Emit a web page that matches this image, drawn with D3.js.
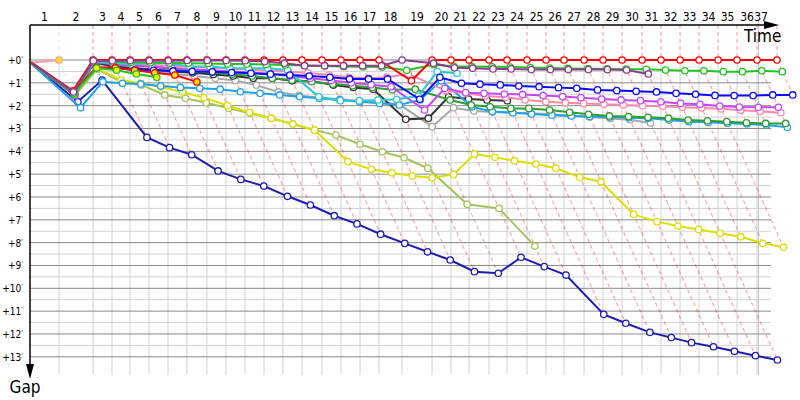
<!DOCTYPE html>
<html>
<head>
<meta charset="utf-8">
<script src="https://cdn.jsdelivr.net/npm/d3@7"></script>
<style>
body { margin: 0; background: #fff; }
text { font-family: Tahoma, "DejaVu Sans Condensed", "DejaVu Sans", sans-serif; fill: #000; }
</style>
</head>
<body>
<div id="chart"></div>
<script>
// leader's race time (minutes) at the end of each lap, lap 0 = start
var lapTimes = [0, 2.82, 6.12, 7.96, 9.71, 11.55, 13.40, 15.24, 17.18, 19.03, 20.87,
    22.72, 24.56, 26.41, 28.35, 30.19, 32.04, 33.88, 36.12, 39.03, 40.87,
    42.62, 44.56, 46.31, 48.25, 50.10, 51.84, 53.79, 55.63, 57.48, 59.42,
    61.26, 63.11, 64.95, 66.80, 68.64, 70.58, 72.52];
var lapLabels = d3.range(1, 38);
var gapTicks = d3.range(0, 14);
var raceEnd = 70.72;

// gap to leader (minutes) per lap, index = lap
var gapNavy = [0.15, 1.83, 0.88, 3.39, 3.84, 4.15, 4.86, 5.23, 5.52, 5.97, 6.35, 6.82, 7.18, 7.63, 8.03, 8.4,
    8.76, 9.27, 9.34, 8.64, 9.05, 9.42, 11.14, 11.53, 11.93, 12.16, 12.38, 12.56, 12.76, 12.95, 13.14];
var gapOlive = [0.15, 1.55, 0.4, 0.99, 1.09, 1.53, 1.68, 1.87, 2.11, 2.33, 2.55, 2.8, 3.07, 3.29, 3.69, 4.02,
    4.28, 4.74, 6.32, 6.5, 8.15];
var gapYellow = [0.12, 1.4, 0.35, 0.88, 1.02, 1.18, 1.4, 1.65, 2.0, 2.3, 2.55, 2.8, 3.07, 4.45, 4.79, 4.94,
    5.08, 5.16, 5.01, 4.12, 4.26, 4.41, 4.56, 4.74, 5.14, 5.33, 6.76, 7.08, 7.27, 7.42, 7.59, 7.74, 8.03, 8.2];
var gapGrey = [0.15, 1.5, 0.15, 0.3, 0.4, 0.5, 0.6, 0.7, 0.8, 0.9, 1.1, 1.4, 1.55, 1.65, 1.72, 1.8,
    1.86, 1.93, 2.92, 2.09, 2.23, 2.28, 2.31, 2.33, 2.38, 2.44, 2.5, 2.56, 2.62, 2.76];
var gapBlack = [0.15, 1.5, 0.1, 0.3, 0.35, 0.42, 0.5, 0.56, 0.63, 0.7, 0.8, 0.8, 0.91, 0.92, 1.1, 1.2,
    1.28, 2.6, 2.55, 1.61, 1.71, 1.75, 1.78];
var gapSky = [0.2, 2.09, 0.95, 1.02, 1.05, 1.14, 1.2, 1.24, 1.28, 1.39, 1.46, 1.53, 1.61, 1.68, 1.75, 1.83,
    1.9, 1.97, 1.75, 0.91, 2.05, 2.26, 2.31, 2.37, 2.42, 2.45, 2.48, 2.5, 2.53, 2.55, 2.63, 2.7, 2.73,
    2.77, 2.8, 2.85, 2.95];
var gapDarkGreen = [0.15, 1.5, 0.1, 0.15, 0.2, 0.3, 0.4, 0.5, 0.55, 0.62, 0.7, 0.8, 0.88, 0.95, 1.05, 1.13,
    1.2, 1.3, 1.28, 1.75, 1.97, 2.05, 2.12, 2.12, 2.19, 2.29, 2.38, 2.45, 2.48, 2.51, 2.55, 2.63, 2.66,
    2.7, 2.75, 2.78, 2.78];
var gapPink = [0.13, 1.45, 0.06, 0.15, 0.2, 0.22, 0.25, 0.3, 0.33, 0.38, 0.42, 0.47, 0.52, 0.56, 0.66, 0.76,
    0.8, 0.76, 0.61, 1.34, 1.46, 1.58, 1.63, 1.75, 1.83, 1.87, 1.9, 1.94, 1.97, 2.0, 2.03, 2.07, 2.1,
    2.14, 2.2, 2.25, 2.31];
var gapViolet = [0.15, 1.55, 0.08, 0.2, 0.25, 0.3, 0.35, 0.4, 0.45, 0.5, 0.55, 0.6, 0.7, 0.8, 0.9, 1.0,
    1.08, 1.17, 2.19, 1.24, 1.43, 1.46, 1.49, 1.51, 1.56, 1.6, 1.65, 1.71, 1.75, 1.78, 1.83, 1.9, 1.94,
    2.02, 2.06, 2.07, 2.07];
var gapCyan = [0.15, 1.45, 0.05, 0.15, 0.19, 0.12, 0.14, 0.29, 0.29, 0.36, 0.36, 0.36, 0.44, 1.61, 1.78, 1.78,
    1.75, 1.72, 1.58, 0.51, 0.58];
var gapBlue = [0.12, 1.4, 0.34, 0.34, 0.44, 0.45, 0.48, 0.5, 0.52, 0.55, 0.58, 0.62, 0.66, 0.7, 0.76, 0.83,
    0.83, 0.83, 1.72, 0.76, 1.02, 1.06, 1.09, 1.14, 1.17, 1.21, 1.24, 1.31, 1.34, 1.37, 1.4, 1.46, 1.5,
    1.55, 1.56, 1.56, 1.53, 1.53];
var gapGreen = [0.14, 1.5, 0.02, 0.08, 0.1, 0.12, 0.13, 0.14, 0.15, 0.17, 0.18, 0.2, 0.22, 0.24, 0.26, 0.28,
    0.3, 0.31, 0.45, 0.2, 0.28, 0.29, 0.3, 0.31, 0.33, 0.35, 0.37, 0.38, 0.39, 0.4, 0.41, 0.44, 0.47,
    0.47, 0.51, 0.51, 0.47, 0.51];
var gapRedY = [0.1, 1.4, 0.33, 0.34, 0.45, 0.56, 0.66, 0.96];
var gapGreenY = [0.12, 1.45, 0.35, 0.45, 0.61, 0.76];
var gapPinkLead = [0.12, 0];
var gapRed = [0.1, 1.35, 0, 0, 0, 0, 0, 0, 0, 0, 0, 0, 0, 0, 0, 0, 0, 0, 0.91,
    0, 0, 0, 0, 0, 0, 0, 0, 0, 0, 0, 0, 0, 0, 0, 0, 0, 0, 0];
var gapPurple = [0.12, 1.4, 0.03, 0.03, 0.03, 0.03, 0.03, 0.02, 0.02, 0.02, 0.03, 0.07, 0.14, 0.25, 0.25, 0.25,
    0.25, 0.25, 0, 0.14, 0.34, 0.36, 0.39, 0.39, 0.42, 0.42, 0.42, 0.42, 0.42, 0.44, 0.61];

// drawing order, bottom first
var seriesGaps = [gapNavy, gapOlive, gapYellow, gapGrey, gapBlack, gapSky, gapDarkGreen, gapPink,
    gapViolet, gapCyan, gapBlue, gapGreen, gapRedY, gapGreenY, gapPinkLead, gapRed, gapPurple];
var seriesColors = ["#1c1cb4", "#a6c45e", "#dede00", "#a8a8a8", "#333333", "#20a0f0", "#2e9e2e", "#ff88a8",
    "#c846ff", "#30c8d0", "#0a0aff", "#22c422", "#ff0000", "#22c422", "#ff9aa8", "#ff0000", "#8e3c8e"];
// laps whose marker is filled yellow instead of white
var seriesYellowLaps = [[], [], [], [], [], [], [], [], [1], [], [2, 3, 4], [], [2, 3, 4, 5, 6, 7],
    [2, 3, 4, 5], [1], [], []];

var width = 800, height = 400;
var gridRight = 771, gridBottom = 375;

var svg = d3.select("#chart")
    .append("svg")
    .attr("width", width)
    .attr("height", height);

var x = d3.scaleLinear().domain([0, 72.52]).range([30, 777]);
var y = d3.scaleLinear().domain([0, 13]).range([60, 356.8]);

var series = seriesGaps.map(function (g, i) {
    return {
        color: seriesColors[i],
        yellow: seriesYellowLaps[i],
        points: g.map(function (v, lap) { return { lap: lap, gap: v }; })
    };
});

// grid
var grid = svg.append("g");
grid.selectAll(".minor")
    .data(d3.range(0.5, 13, 1))
    .enter().append("line")
    .attr("x1", x(0)).attr("x2", gridRight)
    .attr("y1", d => y(d)).attr("y2", d => y(d))
    .attr("stroke", "#d2d2d2");
grid.selectAll(".vert")
    .data(lapTimes.slice(1, 37))
    .enter().append("line")
    .attr("x1", d => x(d)).attr("x2", d => x(d))
    .attr("y1", y(0)).attr("y2", gridBottom)
    .attr("stroke", "#d2d2d2");
grid.append("line")
    .attr("x1", x(raceEnd)).attr("x2", x(raceEnd))
    .attr("y1", 20).attr("y2", gridBottom)
    .attr("stroke", "#c4c4c4");
grid.selectAll(".major")
    .data(gapTicks)
    .enter().append("line")
    .attr("x1", x(0)).attr("x2", gridRight)
    .attr("y1", d => y(d)).attr("y2", d => y(d))
    .attr("stroke", "#8a8a8a");

// lap lines: vertical above the leader, then slanted down to the last car on that lap
var lapLines = [];
for (var n = 1; n < lapTimes.length; n++) {
    var maxGap = 0, leader = null, best = Infinity;
    series.forEach(function (s) {
        var p = s.points[n];
        if (!p) return;
        if (p.gap > maxGap) maxGap = p.gap;
        if (p.gap < best) { best = p.gap; leader = s.color; }
    });
    lapLines.push({ lap: n, maxGap: maxGap, color: leader });
}
svg.append("g").selectAll("path")
    .data(lapLines)
    .enter().append("path")
    .attr("d", d => "M" + x(lapTimes[d.lap]) + ",25V" + y(0) +
        "L" + x(lapTimes[d.lap] + d.maxGap) + "," + y(d.maxGap))
    .attr("fill", "none")
    .attr("stroke", d => d.color)
    .attr("stroke-opacity", 0.35)
    .attr("stroke-width", 1.2)
    .attr("stroke-dasharray", "4,3");

// series
var line = d3.line()
    .x(d => x(lapTimes[d.lap] + d.gap))
    .y(d => y(d.gap));

series.forEach(function (s) {
    var g = svg.append("g");
    g.append("path")
        .attr("d", line(s.points))
        .attr("fill", "none")
        .attr("stroke", s.color)
        .attr("stroke-width", 2);
    g.selectAll("circle")
        .data(s.points.slice(1))
        .enter().append("circle")
        .attr("cx", d => x(lapTimes[d.lap] + d.gap))
        .attr("cy", d => y(d.gap))
        .attr("r", 3.2)
        .attr("fill", d => s.yellow.indexOf(d.lap) >= 0 ? "#ffee00" : "#fff")
        .attr("stroke", s.color)
        .attr("stroke-width", 1.3);
});

// axes
svg.append("line")
    .attr("x1", x(0)).attr("x2", 768).attr("y1", 25).attr("y2", 25)
    .attr("stroke", "#000").attr("stroke-width", 1.5);
svg.append("path").attr("d", "M764,21L779,25L764,29Z").attr("fill", "#000");
svg.append("line")
    .attr("x1", x(0)).attr("x2", x(0)).attr("y1", 25).attr("y2", 368)
    .attr("stroke", "#000").attr("stroke-width", 1.5);
svg.append("path").attr("d", "M26,364L30,379L34,364Z").attr("fill", "#000");

svg.selectAll(".laplabel")
    .data(lapLabels)
    .enter().append("text")
    .attr("x", d => Math.min((x(lapTimes[d - 1]) + x(lapTimes[d])) / 2, 761))
    .attr("y", 21)
    .attr("text-anchor", "middle")
    .style("font-size", "12px")
    .text(d => d);

var yl = svg.selectAll(".gaplabel")
    .data(gapTicks)
    .enter().append("text")
    .attr("x", 23)
    .attr("y", d => y(d) + 4)
    .attr("text-anchor", "end")
    .style("font-size", "10px");
yl.append("tspan").text(d => "+" + d);
yl.append("tspan").attr("dy", -3).style("font-size", "7px").text("'");

svg.append("text").attr("x", 744).attr("y", 42).style("font-size", "17px").text("Time");
svg.append("text").attr("x", 25).attr("y", 393).attr("text-anchor", "middle")
    .style("font-size", "17px").text("Gap");
</script>
</body>
</html>
